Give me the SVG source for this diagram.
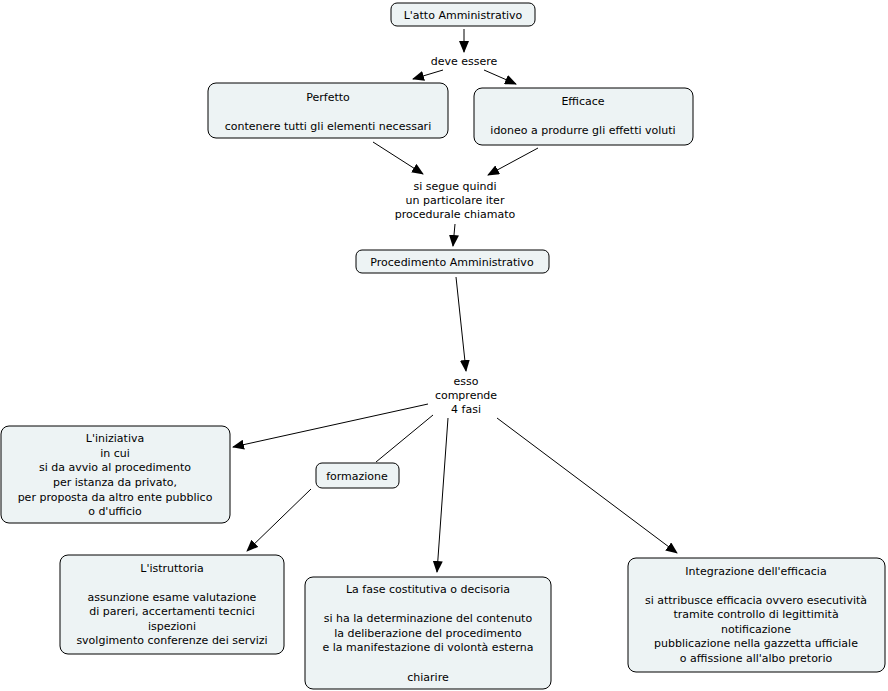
<svg xmlns="http://www.w3.org/2000/svg" width="888" height="691" viewBox="0 0 888 691">
<style>
.n{fill:#edf3f4;stroke:#000;stroke-width:1}
text{font-family:"DejaVu Sans",Verdana,sans-serif;font-size:11px;text-anchor:middle;fill:#000}
.c line{stroke:#000;stroke-width:1}
</style>
<defs><marker id="a" markerWidth="12" markerHeight="10" refX="11" refY="5" orient="auto" markerUnits="userSpaceOnUse"><path d="M0,0L12,5L0,10z" fill="#000"/></marker></defs>
<rect width="888" height="691" fill="#fff"/>
<g class="c">
<line x1="464" y1="29" x2="464" y2="52" marker-end="url(#a)"/>
<line x1="443" y1="70" x2="413" y2="79" marker-end="url(#a)"/>
<line x1="484" y1="70" x2="516" y2="84" marker-end="url(#a)"/>
<line x1="373" y1="142" x2="423" y2="174" marker-end="url(#a)"/>
<line x1="538" y1="148" x2="488" y2="175" marker-end="url(#a)"/>
<line x1="455" y1="224" x2="453" y2="246" marker-end="url(#a)"/>
<line x1="456" y1="277" x2="466" y2="371" marker-end="url(#a)"/>
<line x1="428" y1="404" x2="233" y2="447" marker-end="url(#a)"/>
<line x1="433" y1="415" x2="376" y2="462"/>
<line x1="311" y1="489" x2="247" y2="551" marker-end="url(#a)"/>
<line x1="448" y1="418" x2="437" y2="572" marker-end="url(#a)"/>
<line x1="497" y1="418" x2="677" y2="553" marker-end="url(#a)"/>
</g>
<g id="atto"><rect class="n" x="391" y="3" width="144" height="23" rx="6"/><text x="463" y="19">L'atto Amministrativo</text></g>
<g id="deve"><text x="464" y="65">deve essere</text></g>
<g id="perfetto"><rect class="n" x="208" y="83" width="240" height="55" rx="8"/><text x="328" y="101">Perfetto</text><text x="328" y="130">contenere tutti gli elementi necessari</text></g>
<g id="efficace"><rect class="n" x="474" y="88" width="219" height="57" rx="8"/><text x="583" y="105">Efficace</text><text x="583" y="134">idoneo a produrre gli effetti voluti</text></g>
<g id="segue"><text x="455" y="190">si segue quindi</text><text x="455" y="204">un particolare iter</text><text x="455" y="218">procedurale chiamato</text></g>
<g id="proc"><rect class="n" x="356" y="250" width="193" height="23" rx="6"/><text x="452" y="266">Procedimento Amministrativo</text></g>
<g id="esso"><text x="466" y="385">esso</text><text x="466" y="399">comprende</text><text x="466" y="413">4 fasi</text></g>
<g id="iniziativa"><rect class="n" x="1" y="426" width="229" height="97" rx="8"/><text x="115" y="442">L'iniziativa</text><text x="115" y="457">in cui</text><text x="115" y="471">si da avvio al procedimento</text><text x="115" y="486">per istanza da privato,</text><text x="115" y="501">per proposta da altro ente pubblico</text><text x="115" y="515">o d'ufficio</text></g>
<g id="formazione"><rect class="n" x="316" y="463" width="83" height="25" rx="6"/><text x="357" y="480">formazione</text></g>
<g id="istruttoria"><rect class="n" x="60" y="555" width="224" height="99" rx="8"/><text x="172" y="572">L'istruttoria</text><text x="172" y="601">assunzione esame valutazione</text><text x="172" y="615">di pareri, accertamenti tecnici</text><text x="172" y="630">ispezioni</text><text x="172" y="644">svolgimento conferenze dei servizi</text></g>
<g id="costitutiva"><rect class="n" x="305" y="577" width="246" height="112" rx="8"/><text x="428" y="593">La fase costitutiva o decisoria</text><text x="428" y="622">si ha la determinazione del contenuto</text><text x="428" y="637">la deliberazione del procedimento</text><text x="428" y="651">e la manifestazione di volontà esterna</text><text x="428" y="681">chiarire</text></g>
<g id="integrazione"><rect class="n" x="628" y="558" width="257" height="114" rx="8"/><text x="756" y="575">Integrazione dell'efficacia</text><text x="756" y="604">si attribusce efficacia ovvero esecutività</text><text x="756" y="618">tramite controllo di legittimità</text><text x="756" y="633">notificazione</text><text x="756" y="647">pubblicazione nella gazzetta ufficiale</text><text x="756" y="662">o affissione all'albo pretorio</text></g>
</svg>
